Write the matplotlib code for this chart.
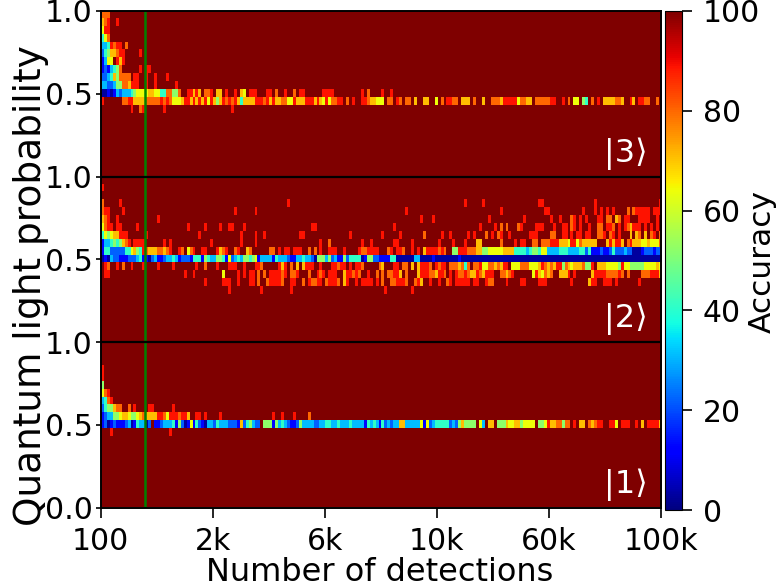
import numpy as np
import matplotlib
matplotlib.use("Agg")
import matplotlib.pyplot as plt

# Grid of the heat map: 21 probability bins per state, 190 detection bins
n_bins = 21
n_cols = 190

x_tick_labels = ["100", "2k", "6k", "10k", "60k", "100k"]
x_tick_cols = [0, 38, 76, 114, 152, 190]
y_tick_labels = ["0.0", "0.5", "1.0", "0.5", "1.0", "0.5", "1.0"]
state_labels = ["|1⟩", "|2⟩", "|3⟩"]
marker_col = 15

# Accuracy for each colour code, the rest of the map is 100
accuracy_codes = {"0": 3, "1": 13, "2": 22, "3": 31, "4": 41, "5": 52,
                  "6": 64, "7": 71, "8": 80, "9": 89}

# Each entry is "first column:codes", bins counted from the top of the panel
ket3_bins = [0, 1, 2, 3, 4, 5, 6, 7, 8, 9, 10, 11, 12]
ket3_cells = [
    "0:888",
    "0:789 5:9",
    "0:699",
    "0:468",
    "0:334 3:9899 8:8",
    "0:2457789 7:9 13:9",
    "0:1366 5:979 13:.",
    "0:1213458 13:9 15:99",
    "0:22347588 8:88 11:99 15:9 18:9 22:9",
    "0:3322355887 10:999 15:9 18:9 25:9",
    "0:0010132333 10:4566667766 20:4488 24:558 29:9 30:97 32:97 35:889 39:77 42:9 45:9 47:76 50:999 56:99 59:8 62:9 65:8 67:99 75:99 77:99 88:9 90:8 95:9 98:9",
    "0:9 7:8899 11:7777 15:88888 20:9898 24:6667 28:99 30:7979 34:7969 38:7579 42:8989 46:74 48:7777 52:999 55:89 57:79 59:77 61:88 63:66 65:9 66:777 69:999 72:79 74:76 76:96 78:889 81:9 83:8 85:9 88:99 90:8776 94:66 97:88 100:98 103:88 106:7 109:77 113:6 115:8 117:99 119:88 122:777 126:8 129:7 132:888 135:7 136:99 138:999 141:6 142:88 144:77 147:888 150:88 152:99 156:9 158:8 160:66 163:54 166:8 168:9 170:7777 174:88 176:7 179:97 182:99 184:88 188:8",
    "10:9 13:89 21:9 44:9",
]

ket2_bins = [1, 3, 4, 5, 6, 7, 8, 9, 10, 11, 12, 13, 14]
ket2_cells = [
    "0:9",
    "0:8 6:9 63:9 123:9 129:9 148:99 167:9 189:9",
    "0:899 7:9 45:9 52:9 103:9 135:9 150:99 163:9 167:9 169:9 171:9 173:9 178:8 180:8 181:99999 187:999",
    "0:789 5:9 19:9 108:9 112:9 131:9 143:9 152:9 155:9 159:89 162:9 164:9 168:99 171:88 174:78 177:99 182:9 183:999 188:9",
    "0:6899 5:99 12:9 29:9 35:9 40:9 43:99 48:9 71:99 99:9 128:9 133:9 135:8 137:8 141:89 147:999 153:9 156:99 159:89 162:9 165:9 168:88 171:998 175:9 177:987 180:999 184:9 186:9 188:9",
    "0:465677999 15:9 33:9 47:9 52:9 55:9 67:99 84:9 95:9 101:9 109:8 115:9 118:9 124:9 126:9 130:8 132:9 134:89 138:9 145:999 152:88 156:99 159:9 161:99 164:99 168:889 172:89 175:9 179:7 181:78 184:7 186:89 189:8",
    "0:1334545789 11:9999 21:9 23:9 37:9 47:9 52:9 74:9 77:8 88:9 91:9 99:99 105:9 114:9 119:9 123:9 127:77 135:8 140:9 142:99 146:88 149:888 152:999 155:7776 159:99 161:68 163:77777 171:7979 175:97 178:89 180:777 183:6676668",
    "0:1442222244 10:67549 15:87 17:7788 21:789 26:98 29:68 31:9 34:99 39:9 40:78 42:9 45:89 49:78 57:88 60:9 62:99 65:999 70:8 72:8 74:9 77:999 82:9 87:9 88:88 90:9999 97:89 100:998 105:9 107:9 109:7 110:9999 114:898 119:55 121:999 124:88 126:87755 131:66666 136:7777 140:4444 144:34 146:554 149:66 151:3333 155:444 158:3333 162:44 164:24 166:111211 172:2 173:4 174:222 177:32 179:2 180:000 183:122212 189:2",
    "0:010 3:3 4:22 6:111 9:222 12:34 14:11 16:0 17:23 19:11 21:2 22:33 24:431 27:222 30:1 31:444 34:154 37:33 39:554 42:162 45:3435 49:5456 53:1 54:3333 58:143 61:3321133433 71:20 73:5553 77:523 80:11 82:52 84:4444 88:01 90:55 92:2211 96:1144 100:000000 106:33 108:0000 112:1 113:00000000 121:1 122:0000000000 132:0000000000 142:0000000000 152:0000000000 162:0000000000 172:0000000000 182:00000000",
    "1:98 5:9 7:8 10:9 14:9 19:9 24:9 32:9 35:8 39:9 43:999 48:9 52:99 54:8 60:9 61:79 64:8 66:7 68:7 69:999 74:9 78:9989 82:9 84:9 86:998 94:87 99:99 102:88 105:7 107:7 108:999 111:8 113:98 115:99 118:888 121:78 123:48 126:889 129:66 131:887 134:879 137:9 139:666 142:888 145:666 148:79 150:8 151:7 152:87 154:99 156:587 159:6 160:777 163:8 164:55 166:9 168:777 171:6666 175:5 176:9 177:66 179:55555 184:6666 188:76",
    "1:99 28:9 31:9 41:6 46:9 48:9 50:99 53:8 55:8 57:9999 61:89 64:889 70:8 73:98 75:9 77:999 82:7 83:99 85:8 86:98 90:9 93:8 95:8 97:88 99:99 101:7 103:8 107:7 108:999 111:88 113:799 116:8 118:9 120:9 121:88 123:98 125:7 126:7 127:987 130:999 135:88 137:78 139:9 146:6 147:97 149:68 151:78 155:777 158:9 160:9 166:7 167:9999 171:8 172:888 175:9 176:8 178:8 183:888 186:999 189:7",
    "35:9 41:999 46:9 50:99 53:8 56:8 57:9999 61:8 64:99 68:8 70:988 73:99 76:8 77:999 80:8 82:79 86:9 88:9999 93:9 95:8 98:88 100:999 103:8 106:89 108:7 111:9 114:9 117:89 120:99999 126:99 130:988 137:9 142:99 148:999 159:9 165:7 166:99 170:999 174:9 182:9",
    "43:9 54:9 64:9 96:9 105:9",
]

ket1_bins = [3, 4, 5, 6, 7, 8, 9, 10, 11]
ket1_cells = [
    "0:9",
    "0:9",
    "0:5",
    "0:689",
    "0:3489",
    "0:245578 5:88 9:8 11:9 16:99 24:9",
    "0:1233556776 10:55678 15:7777 19:99869 24:99 26:899 29:7 32:99 35:9 40:9 58:9 61:9 65:9 70:8",
    "0:1201211123 10:0143302 18:1123 22:334 25:152 28:0161 32:421 35:033 38:243 41:33222 46:172 49:45 51:3 52:22 55:555 58:15 60:34 62:3 63:21 65:1 66:25 68:3333 72:223 75:3443 79:3 80:4333 84:4333 88:3143 92:4314 96:2323 100:3773 104:333 107:3613 110:62 112:3 113:44444 118:232 121:5 122:7 123:5555 128:63 131:77 134:555 137:766 140:77 142:56 144:666 148:556 151:9 152:77 154:88 156:5 157:88 160:9 162:77 165:87 167:8 168:99 172:99 174:6 176:999 181:9 183:7 185:9999 189:7",
    "3:9 23:9",
]


def fill_cells(grid, offset, bins, cells):
    # offset is the bottom row of the panel, bins count down from the panel top
    for b, row in zip(bins, cells):
        for token in row.split():
            start, codes = token.split(":")
            for i, c in enumerate(codes):
                if c != ".":
                    grid[offset + n_bins - 1 - b, int(start) + i] = accuracy_codes[c]


accuracy = np.full((3 * n_bins, n_cols), 100.0)
fill_cells(accuracy, 0, ket1_bins, ket1_cells)
fill_cells(accuracy, n_bins, ket2_bins, ket2_cells)
fill_cells(accuracy, 2 * n_bins, ket3_bins, ket3_cells)

W, H = 779, 587
fig = plt.figure(figsize=(W / 100, H / 100), dpi=100)
ax = fig.add_axes([100.5 / W, 1 - 507.5 / H, 560.5 / W, 496.5 / H])
im = ax.imshow(accuracy, origin="lower", aspect="auto", cmap="jet", vmin=0, vmax=100,
               extent=[0, n_cols, 0, 3 * n_bins], interpolation="nearest")

ax.axvline(marker_col, color="green", lw=1.8)
for k in [1, 2]:
    ax.axhline(k * n_bins, color="black", lw=1.6)

ax.set_xticks(x_tick_cols)
ax.set_xticklabels(x_tick_labels, fontsize=21.5)
ax.set_yticks(np.arange(7) * n_bins / 2)
ax.set_yticklabels(y_tick_labels, fontsize=21.5)
ax.set_xlabel("Number of detections", fontsize=23)
ax.xaxis.set_label_coords(0.498, -0.099)
ax.set_ylabel("Quantum light probability", fontsize=27)
ax.yaxis.set_label_coords(-0.092, 0.446)
ax.tick_params(axis="x", length=7, width=1.2, pad=7)
ax.tick_params(axis="y", length=3.5, width=1.2, pad=2)
for s in ax.spines.values():
    s.set_linewidth(1.4)

for k, label in enumerate(state_labels):
    ax.text(n_cols * 0.9375, k * n_bins + 2.9, label, color="white", fontsize=23,
            ha="center", va="center")

cax = fig.add_axes([665 / W, 1 - 510 / H, 17 / W, 499 / H])
cb = fig.colorbar(im, cax=cax)
cb.set_ticks([0, 20, 40, 60, 80, 100])
cb.ax.tick_params(labelsize=21.5, length=7, width=1.2, pad=8)
cb.set_label("Accuracy", fontsize=22.5)
cb.ax.yaxis.set_label_coords(4.88, 0.498)

fig.savefig("out.png", dpi=100)
